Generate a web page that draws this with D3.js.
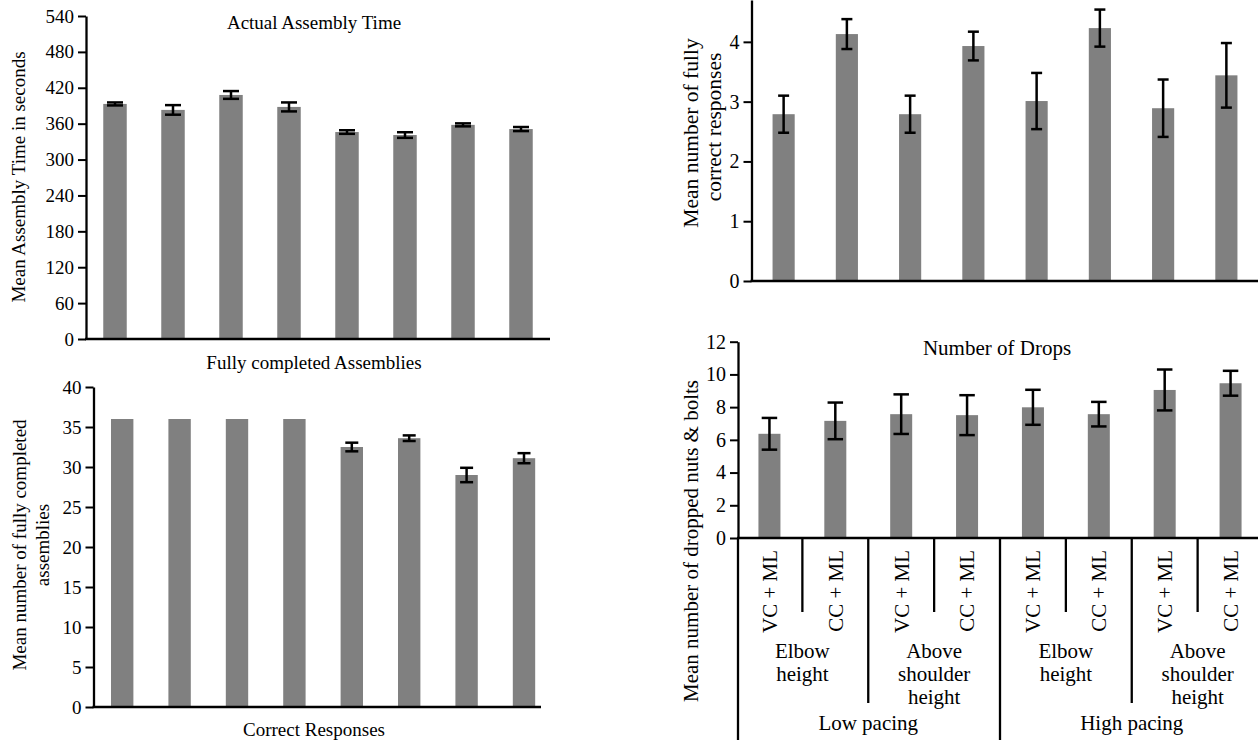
<!DOCTYPE html>
<html>
<head>
<meta charset="utf-8">
<title>Assembly task results</title>
<style>
    body { margin: 0; background: #fff; }
    svg { display: block; }
    svg text { font-family: "Liberation Serif", "Times New Roman", serif; fill: #000; }
</style>
</head>
<body>

<svg id="chart" width="1258" height="740"></svg>

<script src="https://cdn.jsdelivr.net/npm/d3@7/dist/d3.min.js"></script>
<script>
    // data =================================
    var conditions = ["VC + ML", "CC + ML", "VC + ML", "CC + ML", "VC + ML", "CC + ML", "VC + ML", "CC + ML"];
    var heightGroups = [["Elbow", "height"], ["Above", "shoulder", "height"], ["Elbow", "height"], ["Above", "shoulder", "height"]];
    var pacingGroups = ["Low pacing", "High pacing"];

    var assemblyTime = [393, 383, 408, 388, 346, 341, 358, 351];
    var assemblyTimeErr = [2.5, 8, 6.5, 7.5, 3, 4.7, 2.5, 3.4];
    var assemblyTicks = [0, 60, 120, 180, 240, 300, 360, 420, 480, 540];

    var completed = [36, 36, 36, 36, 32.5, 33.6, 29.0, 31.1];
    var completedErr = [0, 0, 0, 0, 0.54, 0.35, 0.9, 0.63];
    var completedTicks = [0, 5, 10, 15, 20, 25, 30, 35, 40];

    var correct = [2.79, 4.13, 2.79, 3.93, 3.01, 4.23, 2.89, 3.44];
    var correctErr = [0.31, 0.25, 0.31, 0.24, 0.47, 0.31, 0.48, 0.54];
    var correctTicks = [0, 1, 2, 3, 4];

    var drops = [6.37, 7.16, 7.57, 7.51, 7.99, 7.57, 9.05, 9.46];
    var dropsErr = [0.97, 1.12, 1.21, 1.22, 1.07, 0.75, 1.25, 0.76];
    var dropsTicks = [0, 2, 4, 6, 8, 10, 12];

    var barColor = "#808080";
    var serif = '"Liberation Serif", "Times New Roman", serif';
    var svg = d3.select("#chart");

    // one bar panel ========================
    function panel(cfg) {
        var g = svg.append("g");
        var slot = d3.scaleBand().domain(d3.range(cfg.values.length)).range(cfg.xRange);
        var y = d3.scaleLinear().domain(cfg.yDomain).range(cfg.yRange);
        var bw = slot.bandwidth() * cfg.barRatio;
        var cx = function (i) { return slot(i) + slot.bandwidth() / 2; };

        g.selectAll("rect.bar")
            .data(cfg.values)
            .join("rect")
            .attr("class", "bar")
            .attr("fill", barColor)
            .attr("x", function (d, i) { return cx(i) - bw / 2; })
            .attr("y", function (d) { return y(d); })
            .attr("width", bw)
            .attr("height", function (d) { return y(0) - y(d); });

        // error bars
        var eb = g.selectAll("g.err")
            .data(cfg.values.map(function (d, i) { return {v: d, e: cfg.errors[i], i: i}; })
                .filter(function (d) { return d.e > 0; }))
            .join("g")
            .attr("class", "err")
            .attr("stroke", "#000")
            .attr("stroke-width", 2.5);
        eb.append("line")
            .attr("x1", function (d) { return cx(d.i); })
            .attr("x2", function (d) { return cx(d.i); })
            .attr("y1", function (d) { return y(d.v + d.e); })
            .attr("y2", function (d) { return y(d.v - d.e); });
        [1, -1].forEach(function (s) {
            eb.append("line")
                .attr("x1", function (d) { return cx(d.i) - cfg.cap / 2; })
                .attr("x2", function (d) { return cx(d.i) + cfg.cap / 2; })
                .attr("y1", function (d) { return y(d.v + s * d.e); })
                .attr("y2", function (d) { return y(d.v + s * d.e); });
        });

        // y axis
        var ax = g.append("g")
            .attr("transform", "translate(" + cfg.axisX + ",0)")
            .call(d3.axisLeft(y).tickValues(cfg.ticks).tickFormat(d3.format("d"))
                .tickSize(8).tickPadding(4).tickSizeOuter(0));
        ax.attr("font-family", null).attr("font-size", null);
        ax.select(".domain").attr("stroke-width", 2.3);
        ax.selectAll(".tick line").attr("stroke-width", 2);
        ax.selectAll(".tick text")
            .style("font-family", serif)
            .style("font-size", cfg.tickFont + "px");

        // x axis line
        g.append("line")
            .attr("x1", cfg.axisX - 1)
            .attr("x2", cfg.xEnd)
            .attr("y1", y(0))
            .attr("y2", y(0))
            .attr("stroke", "#000")
            .attr("stroke-width", 2.3);

        // title
        if (cfg.title) {
            g.append("text")
                .attr("x", cfg.title.x)
                .attr("y", cfg.title.y)
                .attr("text-anchor", "middle")
                .attr("font-size", cfg.labelFont)
                .text(cfg.title.text);
        }

        // y label (one or more lines)
        cfg.yLabel.lines.forEach(function (t, k) {
            g.append("text")
                .attr("transform", "translate(" + cfg.yLabel.xs[k] + "," + cfg.yLabel.ys[k] + ") rotate(-90)")
                .attr("text-anchor", "middle")
                .attr("font-size", cfg.labelFont)
                .text(t);
        });

        return {g: g, slot: slot, y: y, cx: cx};
    }

    // top left: assembly time ==============
    panel({
        values: assemblyTime, errors: assemblyTimeErr, ticks: assemblyTicks,
        xRange: [86, 550], xEnd: 550, axisX: 86,
        yDomain: [0, 540], yRange: [339, 16],
        barRatio: 0.405, cap: 16, tickFont: 19, labelFont: 19,
        title: {text: "Actual Assembly Time", x: 314, y: 29},
        yLabel: {lines: ["Mean Assembly Time in seconds"], xs: [25], ys: [177]}
    });

    // bottom left: completed assemblies ====
    panel({
        values: completed, errors: completedErr, ticks: completedTicks,
        xRange: [93.5, 552.7], xEnd: 541, axisX: 93.5,
        yDomain: [0, 40], yRange: [707, 387],
        barRatio: 0.39, cap: 13, tickFont: 19, labelFont: 19,
        title: {text: "Fully completed Assemblies", x: 314, y: 369},
        yLabel: {lines: ["Mean number of fully completed", "assemblies"], xs: [26, 48.5], ys: [545, 545]}
    });

    svg.append("text")
        .attr("x", 314)
        .attr("y", 736)
        .attr("text-anchor", "middle")
        .attr("font-size", 19)
        .text("Correct Responses");

    // top right: correct responses =========
    panel({
        values: correct, errors: correctErr, ticks: correctTicks,
        xRange: [752, 1258], xEnd: 1258, axisX: 751.5,
        yDomain: [0, 4.7], yRange: [281, 0],
        barRatio: 0.35, cap: 11, tickFont: 20, labelFont: 21.5,
        title: null,
        yLabel: {lines: ["Mean number of fully", "correct responses"], xs: [697.5, 721], ys: [133, 127]}
    });

    // bottom right: drops ==================
    var p4 = panel({
        values: drops, errors: dropsErr, ticks: dropsTicks,
        xRange: [736.5, 1263.5], xEnd: 1258, axisX: 738,
        yDomain: [0, 12], yRange: [538, 341.7],
        barRatio: 0.334, cap: 15.5, tickFont: 20, labelFont: 21,
        title: {text: "Number of Drops", x: 997, y: 355},
        yLabel: {lines: ["Mean number of dropped nuts & bolts"], xs: [698], ys: [541]}
    });

    var base = p4.y(0);

    // y axis continues down through the category table
    p4.g.append("line")
        .attr("x1", 738).attr("x2", 738)
        .attr("y1", base).attr("y2", 740)
        .attr("stroke", "#000").attr("stroke-width", 2.3);

    // separators between categories
    var sepEnd = function (i) { return i % 4 === 0 ? 740 : (i % 2 === 0 ? 703 : 612); };
    p4.g.selectAll("line.sep")
        .data(d3.range(1, conditions.length))
        .join("line")
        .attr("class", "sep")
        .attr("x1", function (i) { return p4.slot(i); })
        .attr("x2", function (i) { return p4.slot(i); })
        .attr("y1", base)
        .attr("y2", function (i) { return sepEnd(i); })
        .attr("stroke", "#000")
        .attr("stroke-width", 2.3);

    // condition labels
    p4.g.selectAll("text.cond")
        .data(conditions)
        .join("text")
        .attr("class", "cond")
        .attr("transform", function (d, i) { return "translate(" + p4.cx(i) + ",550) rotate(-90)"; })
        .attr("text-anchor", "end")
        .attr("dy", "0.35em")
        .attr("font-size", 21)
        .text(function (d) { return d; });

    // working height labels
    heightGroups.forEach(function (lines, j) {
        var t = p4.g.append("text")
            .attr("text-anchor", "middle")
            .attr("font-size", 21);
        lines.forEach(function (s, k) {
            t.append("tspan")
                .attr("x", p4.slot(2 * j + 1))
                .attr("y", 658 + k * 23)
                .text(s);
        });
    });

    // pacing labels
    p4.g.selectAll("text.pace")
        .data(pacingGroups)
        .join("text")
        .attr("class", "pace")
        .attr("x", function (d, k) { return p4.slot(4 * k + 2); })
        .attr("y", 730)
        .attr("text-anchor", "middle")
        .attr("font-size", 21)
        .text(function (d) { return d; });
</script>
</body>
</html>
